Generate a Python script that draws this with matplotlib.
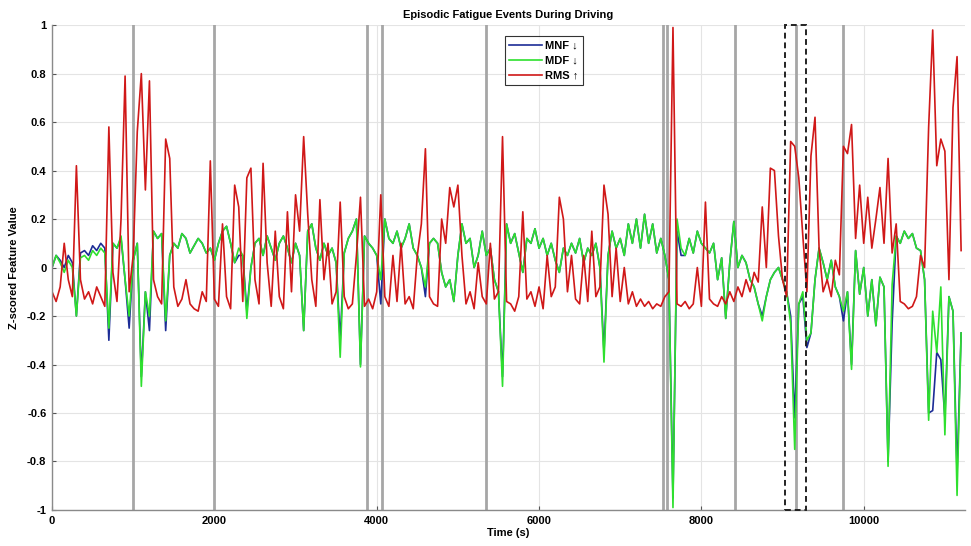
import numpy as np
import matplotlib.pyplot as plt
from matplotlib.patches import Rectangle
from matplotlib.ticker import FuncFormatter

plt.rcParams['font.family'] = ['Liberation Sans', 'DejaVu Sans']
plt.rcParams['font.weight'] = 'bold'
plt.rcParams['axes.unicode_minus'] = False

# time axis: one sample every 50 s
timeStep = 50
timeEnd = 11200

rms = [
  -0.10, -0.14, -0.08, 0.10, -0.05, -0.12, 0.42, -0.05, -0.13, -0.10, -0.15, -0.08, -0.12, -0.16, 0.58, -0.02, -0.14, 0.20, 0.79, -0.10,
  0.05, 0.56, 0.80, 0.32, 0.77, -0.05, -0.12, -0.15, 0.53, 0.45, -0.08, -0.16, -0.13, -0.05, -0.15, -0.17, -0.18, -0.10, -0.14, 0.44,
  -0.13, -0.16, 0.18, -0.12, -0.17, 0.34, 0.25, -0.14, 0.37, 0.41, -0.05, -0.15, 0.43, 0.02, -0.16, 0.15, -0.12, -0.17, 0.23, -0.10,
  0.30, 0.15, 0.54, 0.22, -0.05, -0.16, 0.28, -0.05, 0.10, -0.15, -0.10, 0.27, -0.12, -0.17, -0.15, 0.05, 0.29, -0.16, -0.13, -0.17,
  -0.10, 0.30, -0.12, -0.16, 0.05, -0.14, 0.10, -0.15, -0.12, -0.17, 0.05, 0.18, 0.49, -0.12, -0.15, -0.16, 0.20, 0.10, 0.33, 0.25,
  0.34, 0.05, -0.15, -0.10, -0.17, 0.02, -0.12, -0.15, 0.10, -0.13, -0.10, 0.54, -0.14, -0.15, -0.18, -0.12, 0.23, -0.13, -0.10, -0.16,
  -0.08, -0.17, 0.05, -0.12, -0.08, 0.29, 0.20, -0.10, 0.05, -0.13, -0.15, 0.05, -0.14, 0.15, -0.12, -0.08, 0.34, 0.22, -0.12, 0.08,
  -0.14, 0.00, -0.15, -0.10, -0.16, -0.13, -0.16, -0.14, -0.17, -0.15, -0.16, -0.12, -0.10, 0.99, -0.15, -0.16, -0.14, -0.17, -0.15, 0.00,
  -0.16, 0.27, -0.13, -0.15, -0.16, -0.12, -0.15, -0.10, -0.14, -0.08, -0.12, -0.05, -0.10, -0.02, -0.06, 0.25, 0.00, 0.41, 0.40, 0.13,
  -0.05, -0.12, 0.52, 0.50, 0.37, 0.13, -0.10, 0.46, 0.62, 0.08, -0.10, -0.05, -0.12, 0.03, -0.03, 0.50, 0.47, 0.59, 0.12, 0.34,
  0.10, 0.29, 0.08, 0.20, 0.33, 0.10, 0.45, 0.06, 0.18, -0.14, -0.15, -0.17, -0.16, -0.12, 0.05, 0.00, 0.58, 0.98, 0.42, 0.53,
  0.48, -0.05, 0.66, 0.87, 0.07,
]

mdf = [
  0.00, 0.05, 0.02, -0.02, 0.03, 0.00, -0.20, 0.04, 0.05, 0.03, 0.07, 0.05, 0.08, 0.06, -0.25, 0.10, 0.08, 0.13, -0.05, -0.20,
  0.03, 0.10, -0.49, -0.10, -0.20, 0.15, 0.12, 0.14, -0.22, 0.05, 0.10, 0.08, 0.14, 0.12, 0.06, 0.09, 0.12, 0.10, 0.06, 0.08,
  0.03, 0.10, 0.15, 0.17, 0.10, 0.02, 0.08, 0.05, -0.21, 0.00, 0.10, 0.12, 0.05, 0.13, 0.08, 0.03, 0.10, 0.13, 0.08, 0.02,
  0.10, 0.05, -0.26, 0.15, 0.18, 0.08, 0.03, 0.10, 0.05, 0.08, 0.02, -0.37, 0.06, 0.12, 0.15, 0.20, -0.41, 0.13, 0.10, 0.08,
  0.05, -0.05, 0.20, 0.12, 0.10, 0.15, 0.08, 0.12, 0.18, 0.08, 0.05, 0.00, -0.08, 0.10, 0.12, 0.10, -0.02, -0.08, -0.05, -0.14,
  0.05, 0.18, 0.10, 0.12, 0.00, 0.05, 0.15, 0.05, 0.08, -0.05, -0.10, -0.49, 0.18, 0.10, 0.14, 0.06, -0.02, 0.12, 0.10, 0.16,
  0.08, 0.12, 0.05, 0.10, 0.03, -0.02, 0.08, 0.05, 0.10, 0.06, 0.12, 0.02, 0.08, 0.05, 0.10, 0.00, -0.39, 0.05, 0.15, 0.08,
  0.12, 0.05, 0.18, 0.10, 0.20, 0.08, 0.22, 0.10, 0.18, 0.06, 0.12, 0.05, -0.05, -0.99, 0.20, 0.08, 0.05, 0.12, 0.06, 0.15,
  0.10, 0.08, 0.06, 0.10, -0.05, 0.04, -0.21, 0.02, 0.19, 0.00, 0.05, 0.02, -0.05, -0.08, -0.15, -0.22, -0.12, -0.05, -0.02, 0.00,
  -0.05, -0.10, -0.23, -0.75, -0.15, -0.10, -0.30, -0.27, -0.05, 0.08, 0.02, -0.05, 0.03, -0.08, -0.12, -0.18, -0.10, -0.42, 0.07, -0.11,
  0.00, -0.20, -0.05, -0.24, -0.04, -0.08, -0.82, -0.07, 0.13, 0.10, 0.15, 0.12, 0.14, 0.08, 0.07, -0.05, -0.63, -0.18, -0.35, -0.08,
  -0.69, -0.12, -0.18, -0.94, -0.27,
]

mnf = [
  0.00, 0.05, 0.03, 0.00, 0.05, 0.02, -0.20, 0.06, 0.07, 0.05, 0.09, 0.07, 0.10, 0.08, -0.30, 0.10, 0.08, 0.12, -0.05, -0.25,
  0.03, 0.10, -0.45, -0.10, -0.26, 0.15, 0.12, 0.14, -0.26, 0.05, 0.10, 0.08, 0.14, 0.12, 0.06, 0.09, 0.12, 0.10, 0.06, 0.08,
  0.03, 0.10, 0.15, 0.17, 0.10, 0.02, 0.05, 0.05, -0.18, 0.00, 0.10, 0.12, 0.05, 0.13, 0.08, 0.03, 0.10, 0.13, 0.08, 0.02,
  0.10, 0.05, -0.26, 0.15, 0.18, 0.08, 0.03, 0.10, 0.05, 0.08, 0.02, -0.30, 0.06, 0.12, 0.15, 0.20, -0.40, 0.13, 0.10, 0.08,
  0.05, -0.15, 0.20, 0.12, 0.10, 0.15, 0.08, 0.12, 0.18, 0.08, 0.05, 0.00, -0.12, 0.10, 0.12, 0.10, -0.02, -0.08, -0.05, -0.14,
  0.05, 0.18, 0.10, 0.12, 0.00, 0.05, 0.15, 0.05, 0.08, -0.05, -0.10, -0.45, 0.18, 0.10, 0.14, 0.06, -0.02, 0.12, 0.10, 0.16,
  0.08, 0.12, 0.05, 0.10, 0.03, -0.02, 0.08, 0.05, 0.10, 0.06, 0.12, 0.02, 0.08, 0.05, 0.10, 0.00, -0.35, 0.05, 0.15, 0.08,
  0.12, 0.05, 0.18, 0.10, 0.20, 0.08, 0.22, 0.10, 0.18, 0.06, 0.12, 0.05, -0.05, -0.95, 0.15, 0.05, 0.05, 0.12, 0.06, 0.15,
  0.10, 0.08, 0.06, 0.10, -0.05, 0.04, -0.21, 0.02, 0.19, 0.00, 0.05, 0.02, -0.05, -0.08, -0.15, -0.20, -0.12, -0.05, -0.02, 0.00,
  -0.05, -0.10, -0.20, -0.62, -0.15, -0.12, -0.33, -0.27, -0.05, 0.08, 0.02, -0.05, 0.03, -0.08, -0.12, -0.22, -0.10, -0.40, 0.07, -0.11,
  0.00, -0.20, -0.05, -0.24, -0.04, -0.08, -0.80, -0.23, 0.13, 0.10, 0.15, 0.12, 0.14, 0.08, 0.07, -0.05, -0.60, -0.59, -0.35, -0.38,
  -0.62, -0.12, -0.18, -0.85, -0.27,
]

# fatigue events (s) and the highlighted window
eventTimes = [993, 1990, 3875, 4060, 5345, 7530, 7575, 8420, 9170, 9745]
windowStart = 9025
windowEnd = 9295

time = np.arange(0, timeEnd + timeStep, timeStep)

def tickLabel(v, pos):
  v = round(v, 1)
  if abs(v) < 1e-9:
    return '0'
  return '%g' % v

fig = plt.figure(figsize=(9.71, 5.46), dpi=100)
ax = fig.add_axes([0.0536, 0.066, 0.9404, 0.888])

for t in eventTimes:
  ax.axvline(t, color='#a6a6a6', linewidth=2, zorder=1.5)

ax.plot(time, mnf, color='#1c2c96', linewidth=1.2, label='MNF ↓', zorder=2)
ax.plot(time, mdf, color='#2ee02e', linewidth=1.2, label='MDF ↓', zorder=2.1)
ax.plot(time, rms, color='#d01818', linewidth=1.2, label='RMS ↑', zorder=2.2)

ax.add_patch(Rectangle((windowStart, -1), windowEnd - windowStart, 2, fill=False,
                       edgecolor='#222222', linestyle=(0, (3, 2)), linewidth=1.4, zorder=3, clip_on=False))

ax.set_xlim(0, 11250)
ax.set_ylim(-1, 1)
ax.set_xticks(np.arange(0, 11000, 2000))
ax.set_yticks(np.arange(-1, 1.01, 0.2))
ax.yaxis.set_major_formatter(FuncFormatter(tickLabel))
ax.tick_params(direction='in', length=3, width=0.8, color='#555555', labelsize=8, pad=4)
ax.grid(True, color='#e4e4e4', linewidth=0.8)
ax.set_axisbelow(True)

for side in ['top', 'right']:
  ax.spines[side].set_visible(False)
for side in ['left', 'bottom']:
  ax.spines[side].set_color('#8a8a8a')
  ax.spines[side].set_linewidth(1.0)

ax.set_title('Episodic Fatigue Events During Driving', fontsize=8, fontweight='bold', pad=5)
ax.set_xlabel('Time (s)', fontsize=8, fontweight='bold', labelpad=2)
ax.set_ylabel('Z-scored Feature Value', fontsize=8, fontweight='bold', labelpad=6)

leg = ax.legend(loc='upper left', bbox_to_anchor=(0.496, 0.977), fontsize=8, frameon=True,
                fancybox=False, edgecolor='black', handlelength=2.9, handletextpad=0.3,
                labelspacing=0.45, borderpad=0.4, borderaxespad=0)
leg.get_frame().set_linewidth(0.8)

fig.savefig('out.png', dpi=100)
